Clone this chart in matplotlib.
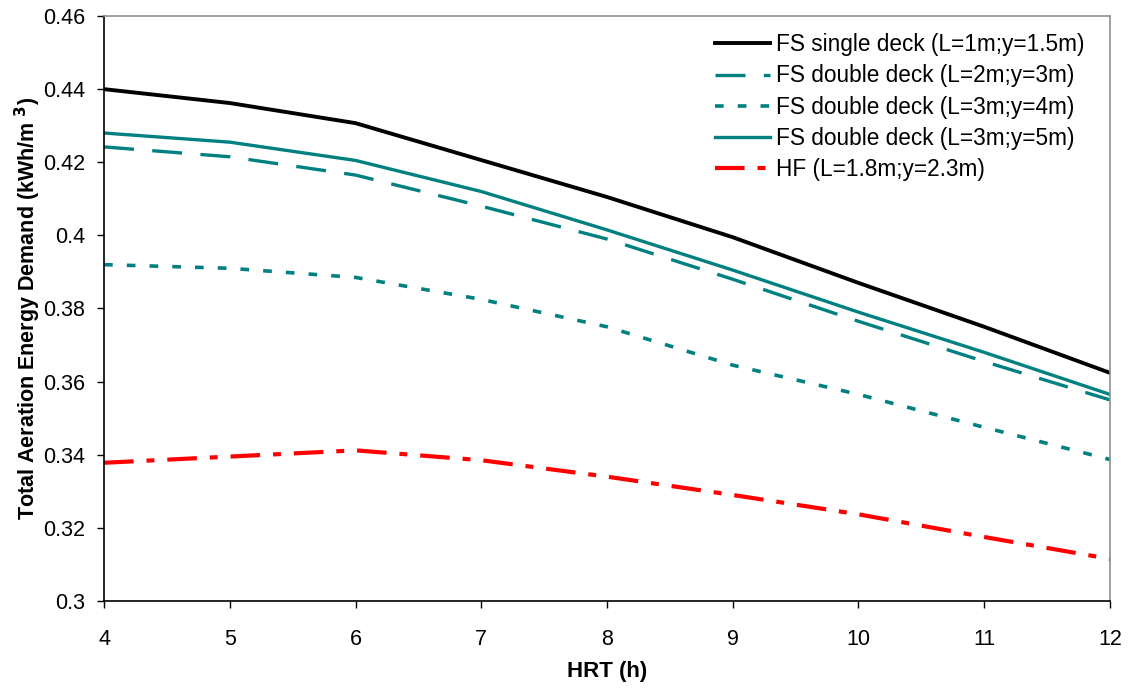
import numpy as np
import matplotlib
matplotlib.use("Agg")
import matplotlib.pyplot as plt
from matplotlib.ticker import FuncFormatter

plt.rcParams['font.family'] = ['Liberation Sans', 'DejaVu Sans']
plt.rcParams['mathtext.default'] = 'regular'

# HRT (h)
hrt = [4, 5, 6, 7, 8, 9, 10, 11, 12]

# total aeration energy demand (kWh/m3)
fs_single_1_15 = [0.440, 0.4362, 0.4307, 0.4206, 0.4105, 0.3995, 0.387, 0.375, 0.3624]
fs_double_2_3 = [0.4242, 0.4215, 0.4165, 0.408, 0.399, 0.388, 0.3765, 0.3655, 0.355]
fs_double_3_4 = [0.392, 0.391, 0.3885, 0.3825, 0.375, 0.3645, 0.3565, 0.3475, 0.3387]
fs_double_3_5 = [0.428, 0.4255, 0.4205, 0.412, 0.4015, 0.3905, 0.379, 0.368, 0.3565]
hf_18_23 = [0.3378, 0.3395, 0.3412, 0.3385, 0.334, 0.329, 0.3237, 0.3175, 0.3115]

labels = ['FS single deck (L=1m;y=1.5m)',
          'FS double deck (L=2m;y=3m)',
          'FS double deck (L=3m;y=4m)',
          'FS double deck (L=3m;y=5m)',
          'HF (L=1.8m;y=2.3m)']

teal = '#008080'

fig = plt.figure(figsize=(11.31, 6.88), dpi=100)
ax = fig.add_axes([0.092, 0.1265, 0.8894, 0.8502])

ax.plot(hrt, fs_single_1_15, color='black', lw=2.8, label=labels[0])
ax.plot(hrt, fs_double_2_3, color=teal, lw=2.4, dashes=(9, 5.5), label=labels[1])
ax.plot(hrt, fs_double_3_4, color=teal, lw=2.6, dashes=(2.4, 3.9), label=labels[2])
ax.plot(hrt, fs_double_3_5, color=teal, lw=2.4, label=labels[3])
ax.plot(hrt, hf_18_23, color='red', lw=3.0, dashes=(7.1, 3.1, 1.9, 3.1), label=labels[4])

ax.set_xlim(4, 12)
ax.set_ylim(0.3, 0.46)
ax.set_xticks(np.arange(4, 13, 1))
ax.set_yticks(np.arange(0.30, 0.4601, 0.02))
ax.yaxis.set_major_formatter(FuncFormatter(lambda v, p: '%g' % round(v, 2)))

ax.tick_params(direction='out', length=5, width=1, labelsize=15.5, colors='black')
ax.tick_params(axis='x', pad=15)
ax.tick_params(axis='y', pad=8.5)

for s in ['left', 'bottom']:
    ax.spines[s].set_color('black')
    ax.spines[s].set_linewidth(1.2)
for s in ['top', 'right']:
    ax.spines[s].set_color('#909090')
    ax.spines[s].set_linewidth(1.2)

ax.set_xlabel('HRT (h)', fontsize=16, fontweight='bold', labelpad=8)
ax.set_ylabel(r'Total Aeration Energy Demand (kWh/m $^{\mathbf{3}}$)',
              fontsize=15.5, fontweight='bold', labelpad=0)

leg = ax.legend(loc='upper right', bbox_to_anchor=(0.984, 0.986), frameon=False,
                fontsize=16.3, handlelength=2.4, handletextpad=0.3,
                labelspacing=0.36, borderaxespad=0, borderpad=0.4)

fig.savefig('out.png', dpi=100)
